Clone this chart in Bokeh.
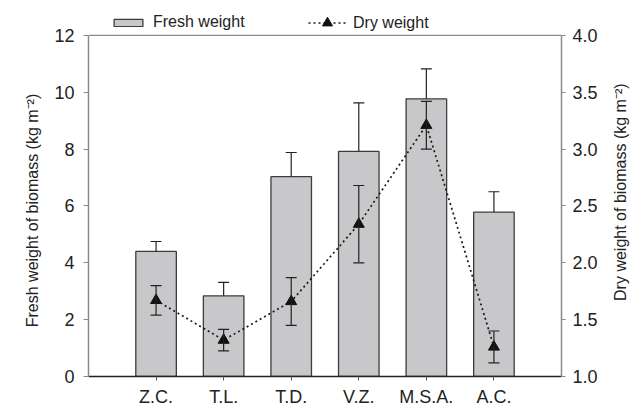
import math
from bokeh.plotting import figure
from bokeh.models import (Range1d, LinearAxis, FixedTicker, ColumnDataSource,
                          Whisker, TeeHead, Legend, LegendItem, Span)
from bokeh.embed import file_html
from bokeh.resources import INLINE

sites = ["Z.C.", "T.L.", "T.D.", "V.Z.", "M.S.A.", "A.C."]
fresh = [4.40, 2.84, 7.03, 7.92, 9.77, 5.78]
fresh_err = [0.35, 0.47, 0.85, 1.71, 1.05, 0.72]
dry = [1.67, 1.32, 1.66, 2.34, 3.21, 1.26]
dry_err = [0.13, 0.095, 0.21, 0.34, 0.21, 0.14]
left_ticks = [0, 2, 4, 6, 8, 10, 12]
right_ticks = [1.0, 1.5, 2.0, 2.5, 3.0, 3.5, 4.0]
left_label = "Fresh weight of biomass (kg m\u207b\u00b2)"
right_label = "Dry weight of biomass (kg m\u207b\u00b2)"

FONT = "Liberation Sans"
NBSP = "\u00a0"
TICK_FS = "18px"
pos = list(range(1, len(sites) + 1))

# frame is extended upward so the legend can sit inside it above the axes' top
k = 373 / 342
left_lo, left_hi = left_ticks[0], left_ticks[-1]
right_lo, right_hi = right_ticks[0], right_ticks[-1]

src = ColumnDataSource(dict(
    x=pos, fresh=fresh, fhi=[f + e for f, e in zip(fresh, fresh_err)],
    dry=dry, dlo=[d - e for d, e in zip(dry, dry_err)],
    dhi=[d + e for d, e in zip(dry, dry_err)],
))

p = figure(width=640, height=409, x_range=Range1d(0, len(sites) + 1),
           y_range=Range1d(left_lo, left_lo + (left_hi - left_lo) * k),
           output_backend="svg", toolbar_location=None,
           min_border_left=88, min_border_right=76, min_border_top=4,
           min_border_bottom=32)
p.extra_y_ranges = {"dry": Range1d(right_lo, right_lo + (right_hi - right_lo) * k)}

p.xgrid.visible = False
p.ygrid.visible = False
p.outline_line_color = None
p.background_fill_color = "white"
p.border_fill_color = "white"

p.add_layout(Span(location=left_hi, dimension="width", line_color="#8a8a8a",
                  line_width=1.2))

bars = p.vbar(x="x", top="fresh", width=0.6, bottom=0, source=src,
              fill_color="#c8c8ca", line_color="#3c3c3c", line_width=1.3)

fw = Whisker(source=src, base="x", lower="fresh", upper="fhi", dimension="height",
             line_color="#222222", line_width=1.2, lower_head=None,
             upper_head=TeeHead(size=11, line_color="#222222", line_width=1.2),
             level="annotation")
p.add_layout(fw)

line_r = p.line(x="x", y="dry", source=src, y_range_name="dry",
                line_dash="2 3", line_width=1.7, line_color="#1a1a1a")
dw = Whisker(source=src, base="x", lower="dlo", upper="dhi", dimension="height",
             y_range_name="dry", line_color="#222222", line_width=1.2,
             lower_head=TeeHead(size=11, line_color="#222222", line_width=1.2),
             upper_head=TeeHead(size=11, line_color="#222222", line_width=1.2),
             level="annotation")
p.add_layout(dw)
tri_r = p.scatter(x="x", y="dry", source=src, y_range_name="dry", marker="triangle",
                  size=11, fill_color="#111111", line_color="#111111")

# bottom axis
xa = p.xaxis[0]
xa.ticker = FixedTicker(ticks=pos)
xa.major_label_overrides = {i: s for i, s in zip(pos, sites)}
xa.axis_line_color = "#222222"
xa.axis_line_width = 1.5
xa.major_tick_in = 0
xa.major_tick_out = 4
xa.major_tick_line_color = "#555555"
xa.minor_tick_line_color = None
xa.major_label_standoff = 6
xa.major_label_text_font = FONT
xa.major_label_text_font_size = TICK_FS
xa.major_label_text_color = "#222222"

# left axis
ya = p.yaxis[0]
ya.ticker = FixedTicker(ticks=left_ticks)
ya.bounds = (left_lo, left_hi)
ya.axis_line_color = "#8a8a8a"
ya.axis_line_width = 1.5
ya.major_tick_in = 0
ya.major_tick_out = 5
ya.major_tick_line_color = "#8a8a8a"
ya.minor_tick_line_color = None
ya.major_label_standoff = 9
ya.major_label_text_font = FONT
ya.major_label_text_font_size = TICK_FS
ya.major_label_text_color = "#222222"
ya.axis_label = left_label + NBSP * 9
ya.axis_label_text_font = FONT
ya.axis_label_text_font_size = "16px"
ya.axis_label_text_font_style = "normal"
ya.axis_label_text_color = "#222222"
ya.axis_label_standoff = 10

# right axis (label reads bottom-to-top like the left one)
ra = LinearAxis(y_range_name="dry", ticker=FixedTicker(ticks=right_ticks))
ra.bounds = (right_lo, right_hi)
ra.major_label_overrides = {v: f"{v:.1f}" for v in right_ticks}
ra.axis_line_color = "#8a8a8a"
ra.axis_line_width = 1.5
ra.major_tick_in = 0
ra.major_tick_out = 4
ra.major_tick_line_color = "#8a8a8a"
ra.minor_tick_line_color = None
ra.major_label_standoff = 7
ra.major_label_text_font = FONT
ra.major_label_text_font_size = TICK_FS
ra.major_label_text_color = "#222222"
try:
    ra.axis_label_align = "start"
    ra.axis_label = NBSP * 17 + right_label
except AttributeError:
    ra.axis_label = right_label
ra.axis_label_text_font = FONT
ra.axis_label_text_font_size = "16px"
ra.axis_label_text_font_style = "normal"
ra.axis_label_text_color = "#222222"
ra.axis_label_standoff = 20
ra.axis_label_orientation = math.pi / 2
p.add_layout(ra, "right")

common = dict(orientation="horizontal", border_line_color=None,
              background_fill_alpha=0, label_standoff=7, padding=0, margin=0,
              label_height=20, label_text_font=FONT, label_text_font_size="16px",
              label_text_color="#222222")
leg1 = Legend(items=[LegendItem(label="Fresh weight", renderers=[bars])],
              location=(22, 344), glyph_width=36, glyph_height=9, **common)
leg2 = Legend(items=[LegendItem(label="Dry weight", renderers=[line_r, tri_r])],
              location=(220, 341), glyph_width=38, glyph_height=25, **common)
p.add_layout(leg1, "center")
p.add_layout(leg2, "center")

open("out.html", "w").write(file_html(p, INLINE))
